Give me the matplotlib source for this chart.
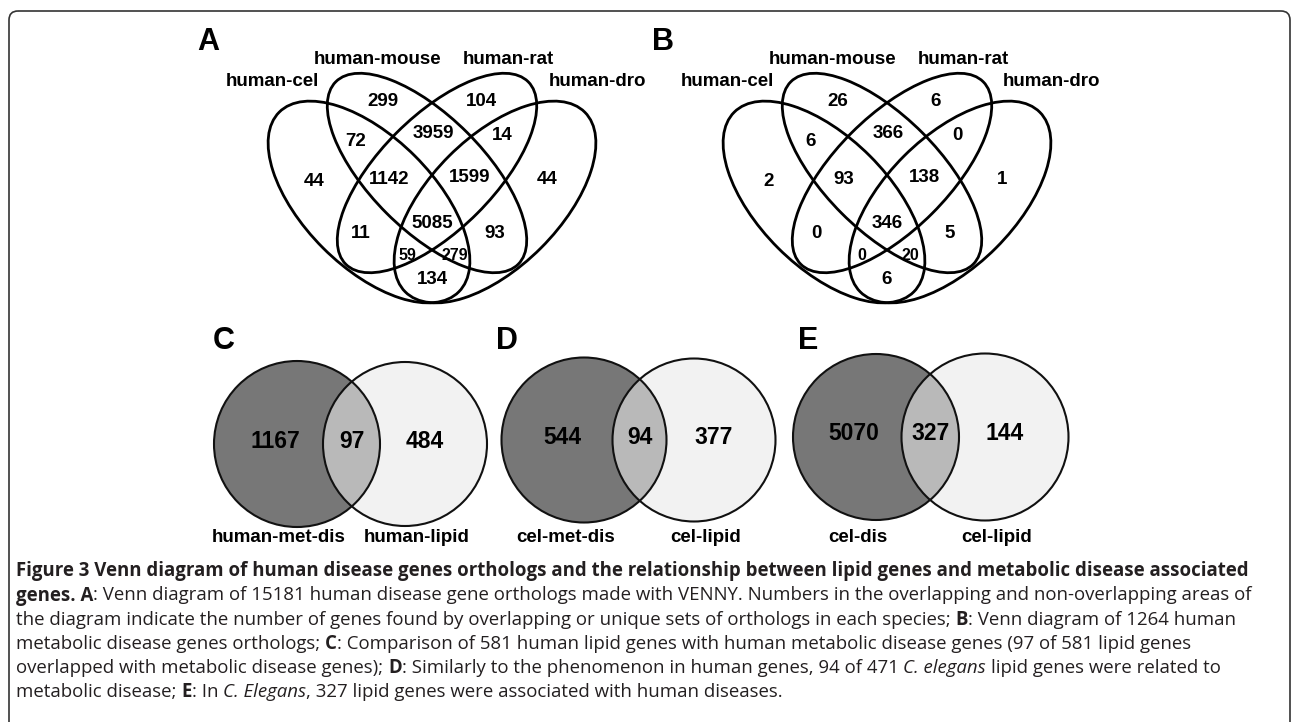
import matplotlib
matplotlib.use("Agg")
import matplotlib.pyplot as plt
from matplotlib.patches import Ellipse, Circle, FancyBboxPatch

# ---- data ----
four_way_sets = ["human-cel", "human-mouse", "human-rat", "human-dro"]
# region counts in the order of region_offsets below
counts_a = [44, 299, 104, 44, 72, 3959, 14, 1142, 1599, 11, 5085, 93, 59, 279, 134]
counts_b = [2, 26, 6, 1, 6, 366, 0, 93, 138, 0, 346, 5, 0, 20, 6]

pair_sets_c = ["human-met-dis", "human-lipid"]
pair_counts_c = [1167, 97, 484]
pair_sets_d = ["cel-met-dis", "cel-lipid"]
pair_counts_d = [544, 94, 377]
pair_sets_e = ["cel-dis", "cel-lipid"]
pair_counts_e = [5070, 327, 144]

caption = [
    [("Figure 3 Venn diagram of human disease genes orthologs and the relationship between lipid genes and metabolic disease associated", "bold", "normal")],
    [("genes. A", "bold", "normal"),
     (": Venn diagram of 15181 human disease gene orthologs made with VENNY. Numbers in the overlapping and non-overlapping areas of", "normal", "normal")],
    [("the diagram indicate the number of genes found by overlapping or unique sets of orthologs in each species; ", "normal", "normal"),
     ("B", "bold", "normal"), (": Venn diagram of 1264 human", "normal", "normal")],
    [("metabolic disease genes orthologs; ", "normal", "normal"), ("C", "bold", "normal"),
     (": Comparison of 581 human lipid genes with human metabolic disease genes (97 of 581 lipid genes", "normal", "normal")],
    [("overlapped with metabolic disease genes); ", "normal", "normal"), ("D", "bold", "normal"),
     (": Similarly to the phenomenon in human genes, 94 of 471 ", "normal", "normal"), ("C. elegans", "normal", "italic"),
     (" lipid genes were related to", "normal", "normal")],
    [("metabolic disease; ", "normal", "normal"), ("E", "bold", "normal"), (": In ", "normal", "normal"),
     ("C. Elegans", "normal", "italic"), (", 327 lipid genes were associated with human diseases.", "normal", "normal")],
]

# ---- layout (pixel space) ----
W, H = 1292, 722
fig = plt.figure(figsize=(W / 100, H / 100), dpi=100)
ax = fig.add_axes([0, 0, 1, 1])
ax.set_xlim(0, W)
ax.set_ylim(H, 0)
ax.axis("off")

venn_font = "Liberation Sans"
ink = "black"

frame = FancyBboxPatch((9, 11), 1281, 760, boxstyle="round,pad=0,rounding_size=9",
                       fill=False, ec="#333333", lw=1.2)
ax.add_patch(frame)

# ellipses relative to panel centre: (dx, y, width, height, angle)
ellipses = [(-63, 202, 254, 130, 45), (-5, 173, 258, 114, 45),
            (5, 173, 258, 114, -45), (63, 202, 254, 130, -45)]
region_offsets = [(-118, 181), (-49, 101), (49, 100), (115, 179), (-76, 141), (1, 133),
                  (70, 135), (-43, 178), (38, 176), (-71, 233), (0, 222), (63, 233),
                  (-25, 254), (23, 254), (0, 279)]
small_regions = {12, 13}
set_label_pos = [(-160, 82), (-54, 59), (76, 59), (165, 81)]


def four_venn(cx, counts, letter):
    for dx, y, w, h, ang in ellipses:
        ax.add_patch(Ellipse((cx + dx, y), w, h, angle=ang, fill=False, ec=ink, lw=2.0))
    for i, (n, (dx, y)) in enumerate(zip(counts, region_offsets)):
        fs = 11.5 if i in small_regions else 13.5
        ax.text(cx + dx, y + 1, str(n), ha="center", va="center", fontsize=fs,
                fontweight="bold", family=venn_font, color=ink)
    for name, (dx, y) in zip(four_way_sets, set_label_pos):
        ax.text(cx + dx, y, name, ha="center", va="center", fontsize=13.5,
                fontweight="bold", family=venn_font, color=ink)
    ax.text(cx - 224, 42, letter, ha="center", va="center", fontsize=22,
            fontweight="bold", family=venn_font, color=ink)


def two_venn(c1, r1, c2, r2, counts, names, letter, letter_x):
    dark = Circle(c1, r1, fc="#777777", ec="none")
    light = Circle(c2, r2, fc="#f2f2f2", ec="none")
    ax.add_patch(dark)
    ax.add_patch(light)
    overlap = Circle(c1, r1, fc="#b9b9b9", ec="none")
    ax.add_patch(overlap)
    overlap.set_clip_path(light)
    ax.add_patch(Circle(c1, r1, fill=False, ec="#111111", lw=1.5))
    ax.add_patch(Circle(c2, r2, fill=False, ec="#111111", lw=1.5))
    xs = [c1[0] - 22, (c1[0] + r1 + c2[0] - r2) / 2, c2[0] + 20]
    for x, n in zip(xs, counts):
        ax.text(x, c1[1] - 3, str(n), ha="center", va="center", fontsize=16.5,
                fontweight="bold", family=venn_font, color=ink)
    ax.text(c1[0] - 18, 537, names[0], ha="center", va="center", fontsize=13.5,
            fontweight="bold", family=venn_font, color=ink)
    ax.text(c2[0] + 12, 537, names[1], ha="center", va="center", fontsize=13.5,
            fontweight="bold", family=venn_font, color=ink)
    ax.text(letter_x, 341, letter, ha="center", va="center", fontsize=22,
            fontweight="bold", family=venn_font, color=ink)


four_venn(432, counts_a, "A")
four_venn(887, counts_b, "B")
two_venn((297, 444), 83, (405, 444), 82, pair_counts_c, pair_sets_c, "C", 224)
two_venn((584, 440), 82.5, (694, 440), 81.5, pair_counts_d, pair_sets_d, "D", 507)
two_venn((876, 437), 83, (985, 437), 83.5, pair_counts_e, pair_sets_e, "E", 808)

# ---- caption, drawn run by run ----
renderer = fig.canvas.get_renderer()
cap_font = "Open Sans"
cap_color = "#231f20"


def text_width(s, size, weight, style):
    t = ax.text(0, 0, s, fontsize=size, fontweight=weight, fontstyle=style, family=cap_font)
    w = t.get_window_extent(renderer).width
    t.remove()
    return w


def run_width(runs, size):
    total = 0
    for s, weight, style in runs:
        sp = text_width("x x", size, weight, style) - text_width("xx", size, weight, style)
        core = s.strip()
        total += text_width(core, size, weight, style)
        total += sp * ((len(s) - len(s.lstrip())) + (len(s) - len(s.rstrip())))
    return total


# fit the font size so the full-width second line spans the box
base = 12
cap_size = base * (1251 - 16) / run_width(caption[1], base)

line_y = [571, 595.5, 620, 644, 668, 692]
for runs, y in zip(caption, line_y):
    x = 16
    for s, weight, style in runs:
        sp = text_width("x x", cap_size, weight, style) - text_width("xx", cap_size, weight, style)
        x += sp * (len(s) - len(s.lstrip()))
        core = s.strip()
        t = ax.text(x, y, core, ha="left", va="center", fontsize=cap_size, fontweight=weight,
                    fontstyle=style, family=cap_font, color=cap_color)
        x += t.get_window_extent(renderer).width
        x += sp * (len(s) - len(s.rstrip()))

fig.savefig("out.png", dpi=100)
